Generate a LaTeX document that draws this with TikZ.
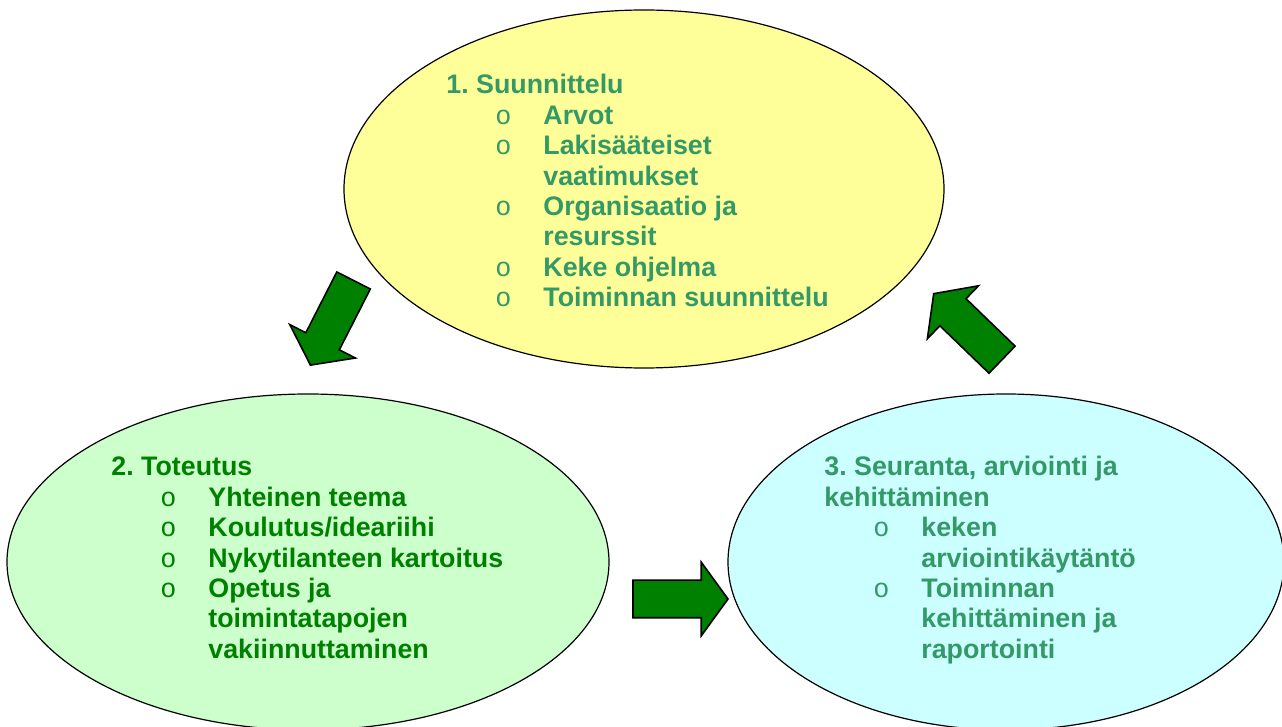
\documentclass[tikz,border=0pt]{standalone}
\usepackage{fontspec}
\setmainfont{Liberation Sans}
\newfontfamily\bulfont{Liberation Mono}
\usetikzlibrary{shapes.geometric,shapes.arrows}

\definecolor{planfill}{HTML}{FFFF99}
\definecolor{dofill}{HTML}{CCFFCC}
\definecolor{checkfill}{HTML}{CCFFFF}
\definecolor{arrowgreen}{HTML}{008000}
\definecolor{tealtext}{HTML}{339966}

\frenchspacing
% one line of the lists
\newcommand\hd[1]{\hbox{#1}}
\newcommand\itm[1]{\hbox{\hspace*{24.5pt}\makebox[24pt][l]{\bulfont\mdseries o}#1}}
\newcommand\cnt[1]{\hbox{\hspace*{48.5pt}#1}}

\tikzset{
	phase/.style={ellipse, draw=black, line width=0.6pt, inner sep=0pt},
	blockarrow/.style={single arrow, draw=black, fill=arrowgreen, line width=0.8pt,
		inner xsep=0pt, inner ysep=9pt, minimum height=47.5pt, anchor=tip,
		single arrow head extend=9pt, single arrow tip angle=108},
	listtext/.style={anchor=base west, inner sep=0pt,
		font=\bfseries\fontsize{13.4pt}{15.2pt}\selectfont}
}

\begin{document}
\begin{tikzpicture}[x=0.5pt,y=-0.5pt]
	\useasboundingbox (0,0) rectangle (1282,727);
	
	% the three phases
	\node[phase, fill=planfill, minimum width=300pt, minimum height=179pt] (plan) at (644,189) {};
	\node[phase, fill=dofill, minimum width=301pt, minimum height=168pt] (do) at (308,562) {};
	\node[phase, fill=checkfill, minimum width=278pt, minimum height=168pt] (check) at (1006,562) {};
	
	% arrows between them (placed at their tips)
	\node[blockarrow, rotate=-117] (plantodo) at (310,366) {};
	\node[blockarrow] (dotocheck) at (729,599) {};
	\node[blockarrow, rotate=136] (checktoplan) at (933,293) {};
	
	\node[listtext, text=tealtext] (plantext) at (446,94) {\vtop{%
		\hd{1. Suunnittelu}
		\itm{Arvot}
		\itm{Lakisääteiset}
		\cnt{vaatimukset}
		\itm{Organisaatio ja}
		\cnt{resurssit}
		\itm{Keke ohjelma}
		\itm{Toiminnan suunnittelu}}};
	
	\node[listtext, text=arrowgreen] (dotext) at (111,476) {\vtop{%
		\hd{2. Toteutus}
		\itm{Yhteinen teema}
		\itm{Koulutus/ideariihi}
		\itm{Nykytilanteen kartoitus}
		\itm{Opetus ja}
		\cnt{toimintatapojen}
		\cnt{vakiinnuttaminen}}};
	
	\node[listtext, text=tealtext] (checktext) at (824,476) {\vtop{%
		\hd{3. Seuranta, arviointi ja}
		\hd{kehittäminen}
		\itm{keken}
		\cnt{arviointikäytäntö}
		\itm{Toiminnan}
		\cnt{kehittäminen ja}
		\cnt{raportointi}}};
\end{tikzpicture}
\end{document}
